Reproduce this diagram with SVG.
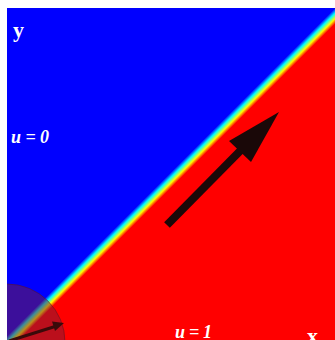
<svg xmlns="http://www.w3.org/2000/svg" width="335" height="340" viewBox="0 0 335 340">
<style>
.lbl{fill:#ffffff;font-family:"Liberation Serif","Times New Roman",serif;font-weight:bold}
.it{font-style:italic;font-size:18px}
.ax{font-size:22px}
.arr{fill:#1a0808}
</style>
<defs>
<linearGradient id="jet" gradientUnits="userSpaceOnUse" x1="171.5" y1="171.5" x2="179.5" y2="179.5">
<stop offset="0" stop-color="#0000ff"/>
<stop offset="0.33" stop-color="#00ffff"/>
<stop offset="0.5" stop-color="#80ff80"/>
<stop offset="0.67" stop-color="#ffff00"/>
<stop offset="1" stop-color="#ff0000"/>
</linearGradient>
<clipPath id="plot"><rect x="7" y="8" width="328" height="332"/></clipPath>
</defs>
<rect x="0" y="0" width="335" height="340" fill="#ffffff"/>
<g id="field">
<rect x="7" y="8" width="328" height="332" fill="url(#jet)"/>
</g>
<g id="disc" clip-path="url(#plot)">
<circle cx="7" cy="342" r="58" fill="rgb(120,30,55)" fill-opacity="0.5" stroke="#5a1020" stroke-opacity="0.6" stroke-width="0.8"/>
</g>
<g id="connectors" clip-path="url(#plot)">
<g id="small-arrow">
<line x1="9" y1="341" x2="55" y2="326.5" stroke="#3a0a0a" stroke-width="3"/>
<polygon points="64,323 52,321.5 55,331" fill="#3a0a0a"/>
</g>
<g id="big-arrow">
<line x1="167" y1="225" x2="243" y2="148" stroke="#1a0808" stroke-width="8"/>
<polygon class="arr" points="279,112 229,141 251,162"/>
</g>
</g>
<g id="labels">
<text class="lbl ax" x="13" y="37">y</text>
<text class="lbl it" x="11" y="142.5" textLength="38" lengthAdjust="spacing">u=0</text>
<text class="lbl it" x="175" y="337.5" textLength="37" lengthAdjust="spacing">u=1</text>
<text class="lbl ax" x="307" y="343">x</text>
</g>
</svg>
